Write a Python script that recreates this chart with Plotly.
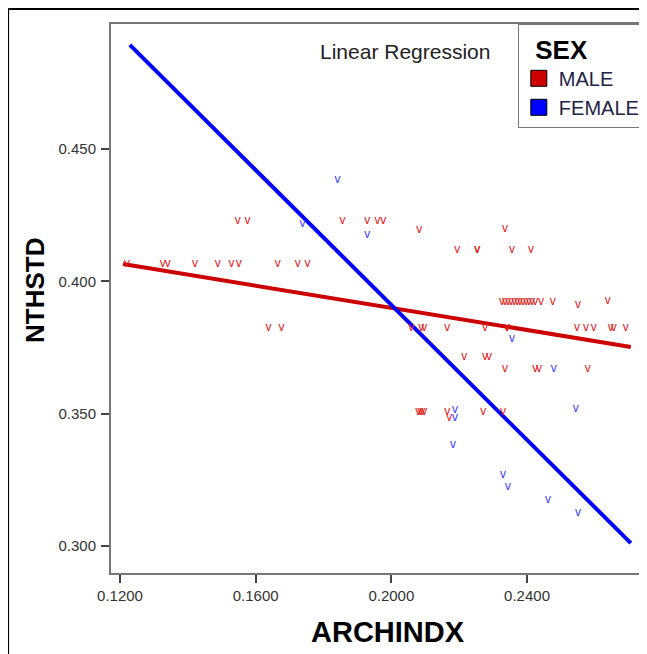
import plotly.graph_objects as go

# ---- data ----
male_x = [0.1547, 0.1576, 0.1856, 0.1929, 0.1959, 0.1976,
          0.2082, 0.2335,
          0.2194, 0.2253, 0.2253, 0.2356, 0.2412,
          0.1221, 0.1326, 0.1341, 0.1421, 0.1488, 0.1529, 0.1550, 0.1665, 0.1724, 0.1753,
          0.2326, 0.2335, 0.2344, 0.2353, 0.2362, 0.2371, 0.2379, 0.2388, 0.2397, 0.2406,
          0.2415, 0.2424, 0.2441, 0.2476,
          0.2550, 0.2638,
          0.1638, 0.1676, 0.2059, 0.2088, 0.2097, 0.2165, 0.2276, 0.2341, 0.2341, 0.2547,
          0.2574, 0.2597, 0.2647, 0.2656, 0.2691,
          0.2215, 0.2276, 0.2288,
          0.2335, 0.2424, 0.2435, 0.2579,
          0.2079, 0.2085, 0.2091, 0.2097, 0.2165, 0.2271, 0.2329,
          0.2171]
male_y = [0.4228, 0.4228, 0.4228, 0.4228, 0.4228, 0.4228,
          0.4194, 0.4198,
          0.4120, 0.4120, 0.4120, 0.4120, 0.4120,
          0.4065, 0.4065, 0.4065, 0.4065, 0.4065, 0.4065, 0.4065, 0.4065, 0.4065, 0.4065,
          0.3922, 0.3922, 0.3922, 0.3922, 0.3922, 0.3922, 0.3922, 0.3922, 0.3922, 0.3922,
          0.3922, 0.3922, 0.3922, 0.3922,
          0.3910, 0.3926,
          0.3824, 0.3824, 0.3824, 0.3824, 0.3824, 0.3824, 0.3824, 0.3824, 0.3824, 0.3824,
          0.3824, 0.3824, 0.3824, 0.3824, 0.3824,
          0.3714, 0.3714, 0.3714,
          0.3669, 0.3669, 0.3669, 0.3669,
          0.3506, 0.3506, 0.3506, 0.3506, 0.3506, 0.3506, 0.3506,
          0.3483]

female_x = [0.1841, 0.1929, 0.1738, 0.2356, 0.2479, 0.2544, 0.2188, 0.2188,
            0.2182, 0.2329, 0.2344, 0.2462, 0.2550]
female_y = [0.4383, 0.4175, 0.4217, 0.3782, 0.3669, 0.3517, 0.3514, 0.3483,
            0.3381, 0.3268, 0.3223, 0.3173, 0.3124]

# regression lines (end points)
male_fit_x = [0.1209, 0.2706]
male_fit_y = [0.4065, 0.3752]
female_fit_x = [0.1229, 0.2706]
female_fit_y = [0.4893, 0.3011]

x_ticks = [0.12, 0.16, 0.20, 0.24]
x_tick_labels = ["0.1200", "0.1600", "0.2000", "0.2400"]
y_ticks = [0.30, 0.35, 0.40, 0.45]
y_tick_labels = ["0.300", "0.350", "0.400", "0.450"]

RED = "#CC0000"
BLUE = "#0000FF"
FONT = "Liberation Sans"

fig = go.Figure()

fig.add_trace(go.Scatter(x=male_fit_x, y=male_fit_y, mode="lines",
                         line=dict(color=RED, width=4), showlegend=False, hoverinfo="skip"))
fig.add_trace(go.Scatter(x=female_fit_x, y=female_fit_y, mode="lines",
                         line=dict(color=BLUE, width=4), showlegend=False, hoverinfo="skip"))

fig.add_trace(go.Scatter(x=male_x, y=male_y, mode="text", text=["v"] * len(male_x),
                         textposition="middle center", showlegend=False,
                         textfont=dict(family=FONT, size=12, color="#E0201A")))
fig.add_trace(go.Scatter(x=female_x, y=female_y, mode="text", text=["v"] * len(female_x),
                         textposition="middle center", showlegend=False,
                         textfont=dict(family=FONT, size=12, color="#4040FF")))

# legend entries
fig.add_trace(go.Scatter(x=[None], y=[None], mode="markers", name="MALE",
                         marker=dict(symbol="square", size=16, color=RED,
                                     line=dict(color="black", width=1))))
fig.add_trace(go.Scatter(x=[None], y=[None], mode="markers", name="FEMALE",
                         marker=dict(symbol="square", size=16, color=BLUE,
                                     line=dict(color="black", width=1))))

fig.update_layout(
    width=639, height=646,
    margin=dict(l=103, r=0, t=16, b=81, autoexpand=False),
    paper_bgcolor="white", plot_bgcolor="white",
    font=dict(family=FONT, color="#333333"),
    xaxis=dict(range=[0.11735, 0.27537], tickvals=x_ticks, ticktext=x_tick_labels,
               showgrid=False, zeroline=False, showline=True, linecolor="#777777",
               linewidth=2, mirror=True, ticks="outside", ticklen=8, tickwidth=2,
               tickcolor="#444444", tickfont=dict(size=15, color="#333333"),
               ticklabelstandoff=0),
    yaxis=dict(range=[0.2898, 0.4972], tickvals=y_ticks, ticktext=y_tick_labels,
               showgrid=False, zeroline=False, showline=True, linecolor="#777777",
               linewidth=2, ticks="outside", ticklen=8, tickwidth=2,
               tickcolor="#444444", tickfont=dict(size=15, color="#333333"),
               ticklabelstandoff=2),
    legend=dict(x=0.759, y=1.0, xanchor="left", yanchor="top",
                bgcolor="white", bordercolor="#777777", borderwidth=1,
                title=dict(text="&nbsp;&nbsp;<b>SEX</b>", font=dict(size=26, color="black")),
                font=dict(size=20, color="#222244"), itemsizing="trace",
                tracegroupgap=0, entrywidth=110),
    shapes=[
        dict(type="line", xref="paper", yref="paper", x0=-0.192, x1=1.0, y0=1.0273, y1=1.0273,
             line=dict(color="black", width=2)),
        dict(type="line", xref="paper", yref="paper", x0=-0.192, x1=-0.192, y0=1.0273, y1=-0.2,
             line=dict(color="black", width=2)),
    ],
    annotations=[
        dict(text="Linear Regression", xref="paper", yref="paper", x=0.5485, y=0.949,
             xanchor="center", yanchor="middle",
             showarrow=False, font=dict(size=21, color="#222222")),
        dict(text="<b>ARCHINDX</b>", xref="paper", yref="paper", x=0.517, y=-0.1075,
             xanchor="center", yanchor="middle",
             showarrow=False, font=dict(size=29, color="black")),
        dict(text="<b>NTHSTD</b>", xref="paper", yref="paper", x=-0.1418, y=0.5155,
             xanchor="center", yanchor="middle",
             showarrow=False, textangle=-90, font=dict(size=26, color="black")),
    ],
)

fig.write_html("out.html")
